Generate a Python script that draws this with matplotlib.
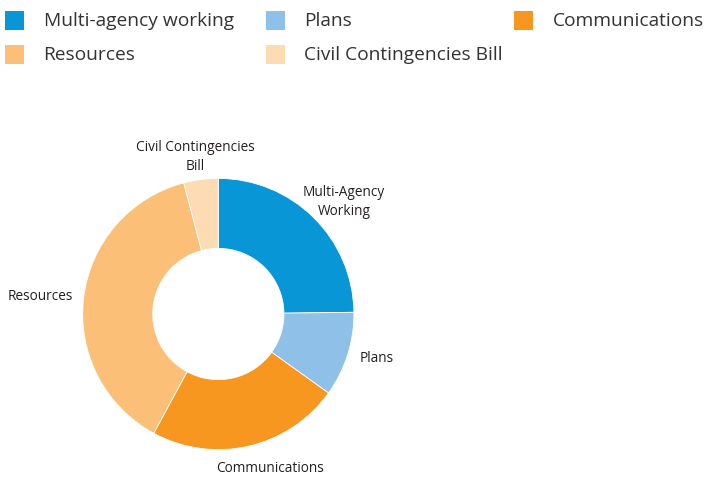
import matplotlib
matplotlib.use("Agg")
import matplotlib.pyplot as plt
from matplotlib.patches import Rectangle

categories = ["Multi-agency working", "Plans", "Communications", "Resources", "Civil Contingencies Bill"]
pie_labels = ["Multi-Agency\nWorking", "Plans", "Communications", "Resources", "Civil Contingencies\nBill"]
values = [24.8, 10.1, 23.0, 38.0, 4.1]
colors = ["#0996d6", "#8ec0e8", "#f7971f", "#fbbf77", "#fddbb3"]

plt.rcParams["font.family"] = ["Open Sans", "DejaVu Sans"]

W, H = 704, 480
fig = plt.figure(figsize=(W / 100, H / 100), dpi=100)
ax = fig.add_axes([0, 0, 1, 1])

cx, cy, R = 218.3, H - 314.0, 135.6
ax.pie(values, colors=colors, startangle=90, counterclock=False,
       center=(cx, cy), radius=R, frame=True,
       wedgeprops=dict(width=R * 0.516, linewidth=0.6, edgecolor="white"))
ax.set_xlim(0, W)
ax.set_ylim(0, H)
ax.set_aspect("equal")
ax.axis("off")

label_pos = [(344, 202), (377, 359), (270, 469), (40, 297), (195, 157)]
for lab, (x, y) in zip(pie_labels, label_pos):
    ax.text(x, H - y, lab, ha="center", va="center", fontsize=9.8,
            color="#231f20", linespacing=1.35)

# legend
leg_pos = [(5, 20.5), (266, 20.5), (514, 20.5), (5, 54.5), (266, 54.5)]
for cat, col, (x, y) in zip(categories, colors, leg_pos):
    ax.add_patch(Rectangle((x, H - y - 9.5), 19, 19, facecolor=col, edgecolor="none"))
    ax.text(x + 38.5, H - y, cat, ha="left", va="center", fontsize=13.8, color="#333333")

fig.savefig("out.png", dpi=100)
